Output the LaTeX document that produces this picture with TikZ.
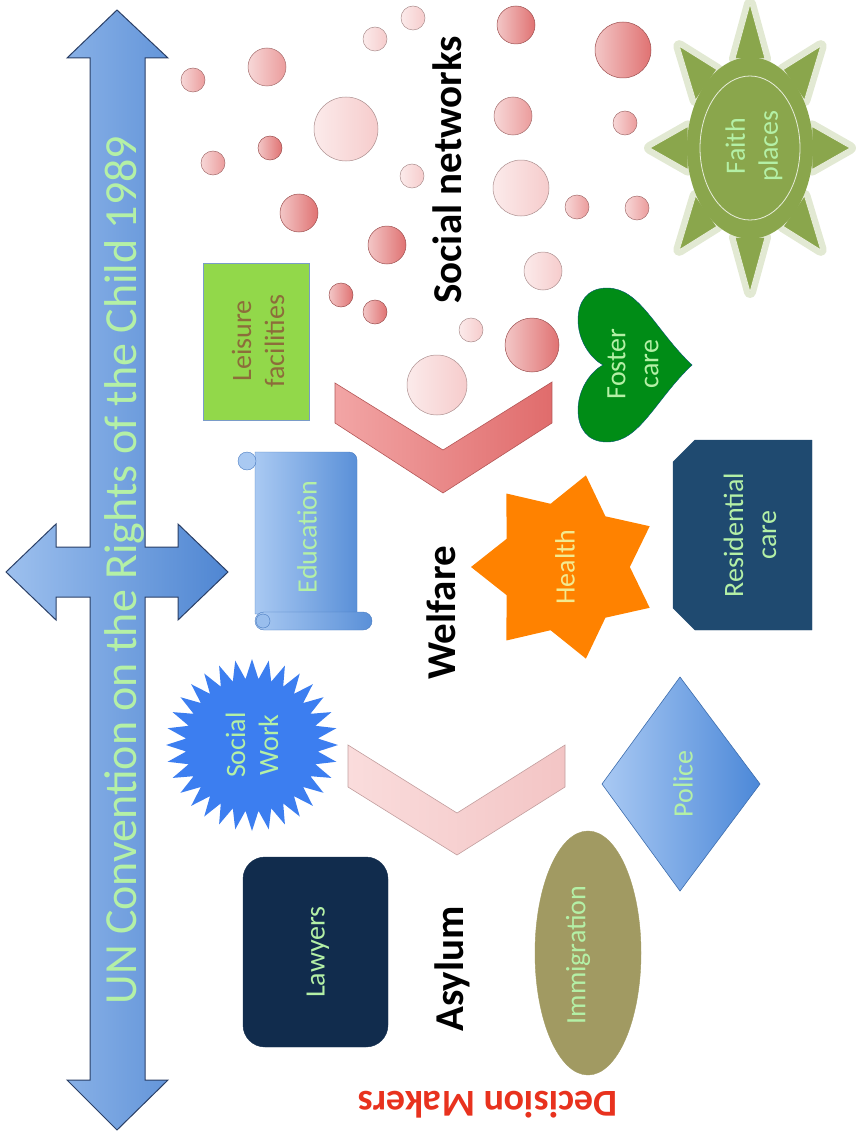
\documentclass[tikz,border=0pt]{standalone}
\usepackage{fontspec}
\setmainfont{Carlito}
\usetikzlibrary{shapes.geometric}

\definecolor{arrowlight}{HTML}{9DC0EE}
\definecolor{arrowdark}{HTML}{4F86D2}
\definecolor{arrowline}{HTML}{2A3F66}
\definecolor{lblgreen}{HTML}{B4F0A6}
\definecolor{leisuregreen}{HTML}{92D84A}
\definecolor{leisureline}{HTML}{7A9CC8}
\definecolor{leisuretext}{HTML}{8C6D3A}
\definecolor{edulight}{HTML}{A9C9F2}
\definecolor{edudark}{HTML}{5A90D8}
\definecolor{scrollline}{HTML}{4A7CC0}
\definecolor{swblue}{HTML}{3C7EF0}
\definecolor{lawyersnavy}{HTML}{112C4D}
\definecolor{chevlight}{HTML}{F2A5A5}
\definecolor{chevdark}{HTML}{E06C6C}
\definecolor{palelight}{HTML}{FADCDC}
\definecolor{paledark}{HTML}{F3C5C5}
\definecolor{healthorange}{HTML}{FF8200}
\definecolor{healthtext}{HTML}{F3EA90}
\definecolor{resblue}{HTML}{1F4A70}
\definecolor{fostergreen}{HTML}{008C16}
\definecolor{faithgreen}{HTML}{8AA64C}
\definecolor{policelight}{HTML}{A9C9F3}
\definecolor{policedark}{HTML}{4C88D8}
\definecolor{immkhaki}{HTML}{A19A62}
\definecolor{dmred}{HTML}{E8321E}
\definecolor{bubA}{HTML}{E07272}
\definecolor{bubB}{HTML}{EB9C9C}
\definecolor{bubC}{HTML}{F6CCCC}

\begin{document}
\begin{tikzpicture}[x=1pt, y=-1pt,
  bubble/.style={draw=#1!70!black, line width=0.5pt, left color=#1!40!white, right color=#1},
  lbl/.style={rotate=90, text=lblgreen, align=center, font=\fontsize{28}{33}\selectfont},
  heading/.style={rotate=90, font=\bfseries\fontsize{41}{48}\selectfont},
  ray/.style={fill=faithgreen, draw=white!80!faithgreen, line width=0.8pt, line join=round,
    preaction={draw=faithgreen!70!white, line width=12pt, draw opacity=0.35, line join=round}}]
\useasboundingbox (0,0) rectangle (855,1137);

\draw [line width=1pt, draw=arrowline, left color=arrowlight, right color=arrowdark] (117,10) -- (168,58) -- (145,58) -- (145,547) -- (178,547) -- (178,524) -- (228,572) -- (178,620) -- (178,597) -- (145,597) -- (145,1080) -- (168,1080) -- (117,1130) -- (67,1080) -- (90,1080) -- (90,597) -- (56,597) -- (56,620) -- (6,572) -- (56,524) -- (56,547) -- (90,547) -- (90,58) -- (67,58) -- cycle;
\node (uncrc) [rotate=90, text=lblgreen, font=\fontsize{46}{50}\selectfont] at (124,570) {UN Convention on the Rights of the Child 1989};

\draw [bubble=bubB] (193,80) circle [radius=12];
\draw [bubble=bubB] (267,67) circle [radius=19];
\draw [bubble=bubC] (375,39) circle [radius=12];
\draw [bubble=bubC] (413,18) circle [radius=12];
\draw [bubble=bubA] (516,25) circle [radius=19];
\draw [bubble=bubA] (623,50) circle [radius=28];
\draw [bubble=bubC] (346,129) circle [radius=32];
\draw [bubble=bubA] (270,148) circle [radius=12];
\draw [bubble=bubB] (213,163) circle [radius=12];
\draw [bubble=bubC] (412,176) circle [radius=12];
\draw [bubble=bubB] (513,116) circle [radius=19];
\draw [bubble=bubB] (625,123) circle [radius=12];
\draw [bubble=bubC] (521,188) circle [radius=28];
\draw [bubble=bubB] (577,207) circle [radius=12];
\draw [bubble=bubB] (637,208) circle [radius=12];
\draw [bubble=bubA] (299,213) circle [radius=19];
\draw [bubble=bubA] (387,245) circle [radius=19];
\draw [bubble=bubC] (543,271) circle [radius=19];
\draw [bubble=bubA] (341,295) circle [radius=12];
\draw [bubble=bubA] (375,312) circle [radius=12];
\draw [bubble=bubC] (471,330) circle [radius=12];
\draw [bubble=bubA] (532,345) circle [radius=27];
\draw [bubble=bubC] (437,385) circle [radius=30];

\draw [fill=leisuregreen, draw=leisureline] (203,263) rectangle (309,420);
\node (leisure) [lbl, text=leisuretext] at (258,341) {Leisure\\facilities};

\draw [draw=scrollline, left color=edulight, right color=edudark] (255,614) -- (255,452) -- (349,452) to [out=0, in=90] (357,460) -- (357,614) -- cycle;
\draw [draw=scrollline, left color=edulight, right color=edudark, rounded corners=9] (255,612) rectangle (372,630);
\draw [draw=scrollline, fill=edulight] (247,461) circle [radius=9];
\draw [draw=scrollline, fill=edulight!80!edudark] (263,621) circle [radius=7];
\node (education) [lbl] at (307,537) {Education};

\node (socialwork) [star, star points=32, star point ratio=1.3, minimum size=172pt, inner sep=0pt, fill=swblue, rotate=90, text=lblgreen, align=center, font=\fontsize{28}{33}\selectfont] at (252,745) {Social\\Work};

\draw [fill=lawyersnavy, draw=lawyersnavy, rounded corners=22] (243,857) rectangle (388,1047);
\node (lawyers) [lbl] at (318,952) {Lawyers};

\draw [draw=chevdark!80!black, line width=0.6pt, left color=chevlight, right color=chevdark] (335,383) -- (443,450) -- (552,382) -- (552,423) -- (443,493) -- (335,423) -- cycle;
\draw [draw=paledark!80!black, line width=0.6pt, left color=palelight, right color=paledark] (348,745) -- (457,813) -- (565,745) -- (565,787) -- (457,855) -- (348,787) -- cycle;

\node (socialnetworks) [heading] at (447,170) {Social networks};
\node (welfare) [heading] at (441,613) {Welfare};
\node (asylum) [heading] at (452,969) {Asylum};

\node (health) [star, star points=7, star point ratio=1.45, minimum size=188pt, inner sep=0pt, fill=healthorange, rotate=90, text=healthtext, font=\fontsize{28}{33}\selectfont] at (565,567) {Health};

\draw [fill=resblue, draw=resblue] (695,440) -- (812,440) -- (812,630) -- (695,630) -- (673,608) -- (673,462) -- cycle;
\node (residential) [lbl] at (750,535) {Residential\\care};

\draw [fill=fostergreen, draw=fostergreen!60!blue] (692,365) .. controls (655,330) and (640,288) .. (607,288) .. controls (587,288) and (578,302) .. (578,320) .. controls (578,340) and (590,358) .. (603,365) .. controls (590,372) and (578,390) .. (578,410) .. controls (578,428) and (587,442) .. (607,442) .. controls (640,442) and (655,400) .. (692,365) -- cycle;
\node (foster) [lbl] at (633,364) {Foster\\care};

\begin{scope}[shift={(750,148)}, xscale=100, yscale=144]
\draw [ray] (1,0) -- (0.62,0.15) -- (0.62,-0.15) -- cycle;
\draw [ray, rotate=45] (1,0) -- (0.62,0.15) -- (0.62,-0.15) -- cycle;
\draw [ray, rotate=90] (1,0) -- (0.62,0.15) -- (0.62,-0.15) -- cycle;
\draw [ray, rotate=135] (1,0) -- (0.62,0.15) -- (0.62,-0.15) -- cycle;
\draw [ray, rotate=180] (1,0) -- (0.62,0.15) -- (0.62,-0.15) -- cycle;
\draw [ray, rotate=225] (1,0) -- (0.62,0.15) -- (0.62,-0.15) -- cycle;
\draw [ray, rotate=270] (1,0) -- (0.62,0.15) -- (0.62,-0.15) -- cycle;
\draw [ray, rotate=315] (1,0) -- (0.62,0.15) -- (0.62,-0.15) -- cycle;
\fill [faithgreen] (0,0) circle [radius=0.63];
\draw [fill=faithgreen, draw=white!80!faithgreen, line width=0.8pt] (0,0) circle [radius=0.5];
\end{scope}
\node (faith) [lbl] at (754,146) {Faith\\places};

\draw [draw=policedark!80!black, line width=0.6pt, left color=policelight, right color=policedark] (602,784) -- (680,677) -- (760,784) -- (680,891) -- cycle;
\node (police) [lbl] at (683,784) {Police};

\draw [fill=immkhaki, draw=immkhaki] (588,953) ellipse [x radius=53, y radius=122];
\node (immigration) [lbl] at (578,955) {Immigration};

\node (decisionmakers) [rotate=180, text=dmred, font=\bfseries\fontsize{38}{44}\selectfont] at (488,1105) {Decision Makers};
\end{tikzpicture}
\end{document}
